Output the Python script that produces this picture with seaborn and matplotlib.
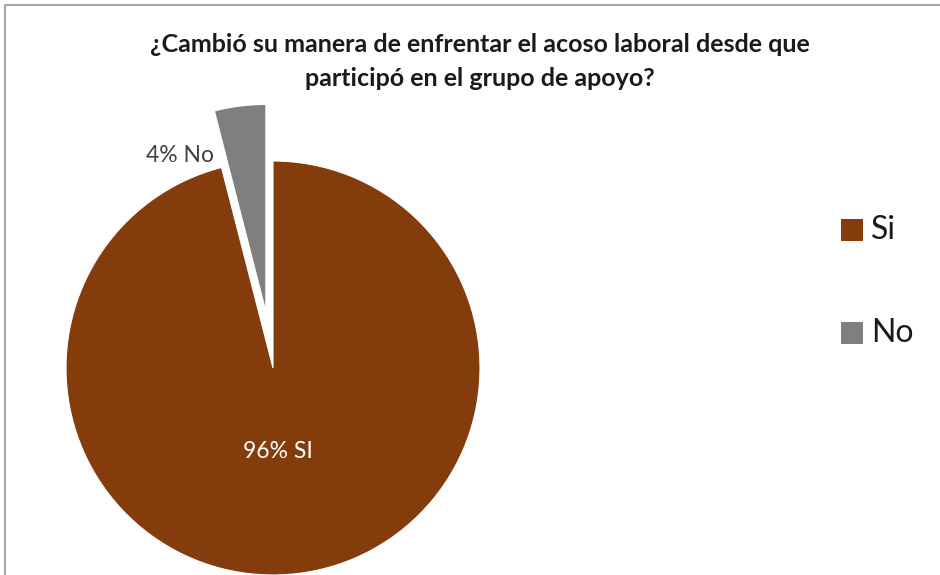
import matplotlib
matplotlib.use("Agg")
import matplotlib.pyplot as plt
import seaborn as sns
from matplotlib.patches import Rectangle
from matplotlib.lines import Line2D

categories = ["Si", "No"]
values = [96, 4]
slice_labels = ["96% SI", "4% No"]
colors = ["#843C0C", "#7F7F7F"]
title = "¿Cambió su manera de enfrentar el acoso laboral desde que\nparticipó en el grupo de apoyo?"

sns.set_theme(style="white")
plt.rcParams['font.family'] = ['Lato', 'DejaVu Sans']

W, H = 940, 575
fig = plt.figure(figsize=(W / 100, H / 100), dpi=100)
ax = fig.add_axes([0, 0, 1, 1])
ax.set_xlim(0, W)
ax.set_ylim(0, H)
ax.axis("off")

# chart border (top & left visible)
ax.add_line(Line2D([5, 5, W + 5], [-5, H - 5, H - 5], color="#A6A6A6", lw=1.5))

cx, cy, r = 273, H - 368, 207
wedges, _ = ax.pie(values, colors=colors, startangle=90, counterclock=False,
                   center=(cx, cy), radius=r, explode=[0, 57],
                   wedgeprops=dict(linewidth=0.8, edgecolor="white"),
                   frame=True)
ax.set_xlim(0, W)
ax.set_ylim(0, H)
ax.axis("off")

ax.text(278, H - 452, slice_labels[0], color="white", fontsize=16.5,
        ha="center", va="center")
ax.text(180, H - 155, slice_labels[1], color="#404040", fontsize=16.5,
        ha="center", va="center")

fig.text(480 / W, 1 - 45 / H, title.split("\n")[0], ha="center", va="center",
         fontsize=18, fontweight="bold", color="#1a1a1a")
fig.text(480 / W, 1 - 78 / H, title.split("\n")[1], ha="center", va="center",
         fontsize=18, fontweight="bold", color="#1a1a1a")

# legend
for i, (cat, col) in enumerate(zip(categories, colors)):
    y = H - (230 + i * 103)
    ax.add_patch(Rectangle((841, y - 11), 22, 22, facecolor=col, edgecolor="none"))
    ax.text(871, y, cat, fontsize=23, va="center", ha="left", color="#1a1a1a")

fig.savefig("out.png", dpi=100)
